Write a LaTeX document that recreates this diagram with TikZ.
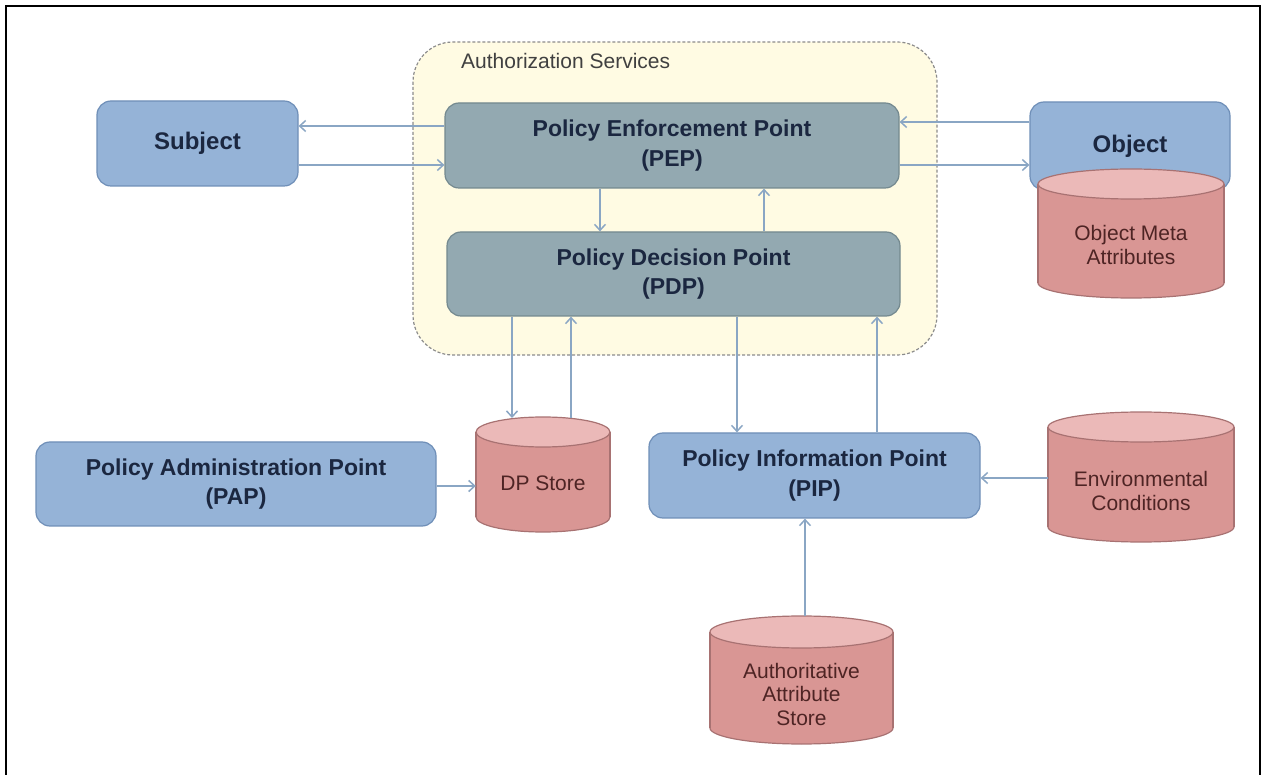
\documentclass[tikz,border=0pt]{standalone}
\usepackage{fontspec}
\setmainfont{Liberation Sans}
\usetikzlibrary{arrows.meta}
\definecolor{bluefill}{HTML}{95B3D7}
\definecolor{blueline}{HTML}{6F8FB8}
\definecolor{grayfill}{HTML}{93A9B1}
\definecolor{grayline}{HTML}{74898F}
\definecolor{cylbody}{HTML}{D99694}
\definecolor{cyltop}{HTML}{EBB9B8}
\definecolor{cylline}{HTML}{A87272}
\definecolor{arrowc}{HTML}{8AA6C4}
\definecolor{authfill}{HTML}{FFFBE3}
\definecolor{dashc}{HTML}{8C8C8C}
\definecolor{txtnavy}{HTML}{1B2740}
\definecolor{txtred}{HTML}{4E2424}
\definecolor{txtgray}{HTML}{404040}
\newcommand\drawcylinder[5]{% cx, rx, top centre y, bottom centre y, ry
  \filldraw[fill=cylbody, draw=cylline, line width=1.2pt] (#1,#4) ellipse [x radius=#2, y radius=#5];
  \fill[cylbody] ({#1-#2},#3) rectangle ({#1+#2},#4);
  \draw[cylline, line width=1.2pt] ({#1-#2},#3) -- ({#1-#2},#4) ({#1+#2},#3) -- ({#1+#2},#4);
  \filldraw[fill=cyltop, draw=cylline, line width=1.2pt] (#1,#3) ellipse [x radius=#2, y radius=#5];
}
\tikzset{
  boxtext/.style={align=center, text=txtnavy, font=\fontsize{23}{29.5}\selectfont\bfseries, inner sep=0pt},
  bluebox/.style={boxtext, draw=blueline, fill=bluefill, line width=1.2pt, rounded corners=14pt},
  graybox/.style={boxtext, draw=grayline, fill=grayfill, line width=1.2pt, rounded corners=14pt},
  cyltext/.style={align=center, text=txtred, font=\fontsize{21}{23.5}\selectfont, inner sep=0pt, draw=none},
  arr/.style={draw=arrowc, line width=1.5pt, -{Straight Barb[length=6pt,width=11pt]}},
}
\begin{document}
\begin{tikzpicture}[x=1pt,y=-1pt]
\useasboundingbox (0,0) rectangle (1262,775);
\fill[white] (0,0) rectangle (1262,775);
\draw[black, line width=2.5pt] (6,776) -- (6,6) -- (1260,6) -- (1260,776);

% Authorization services container
\draw[dashc, fill=authfill, line width=1.2pt, dash pattern=on 3pt off 2pt, rounded corners=40pt] (413,42) rectangle (937,355);
\node[anchor=base west, text=txtgray, font=\fontsize{21}{24}\selectfont, inner sep=0pt] (authlabel) at (461,69) {Authorization Services};

% Boxes
\node[graybox, minimum width=454pt, minimum height=85pt] (pep) at (672,145.5) {Policy Enforcement Point\\(PEP)};
\node[graybox, minimum width=453pt, minimum height=84pt] (pdp) at (673.5,274) {Policy Decision Point\\(PDP)};
\node[bluebox, minimum width=201pt, minimum height=85pt, font=\fontsize{24}{28}\selectfont\bfseries] (subject) at (197.5,143.5) {Subject};
\node[bluebox, minimum width=200pt, minimum height=88pt, font=\fontsize{24}{28}\selectfont\bfseries] (object) at (1130,146) {Object};
\node[bluebox, minimum width=400pt, minimum height=84pt] (pap) at (236,484) {Policy Administration Point\\(PAP)};
\node[bluebox, minimum width=331pt, minimum height=85pt] (pip) at (814.5,475.5) {Policy Information Point\\(PIP)};

% Cylinders
\drawcylinder{1131}{93}{184}{283}{15}
\node[cyltext, minimum width=186pt, minimum height=99pt] (oma) at (1131,245) {Object Meta\\Attributes};
\drawcylinder{1141}{93}{427}{527}{15}
\node[cyltext, minimum width=186pt, minimum height=100pt] (env) at (1141,491) {Environmental\\Conditions};
\drawcylinder{801.5}{91.5}{632}{728}{16}
\node[cyltext, minimum width=183pt, minimum height=96pt] (aas) at (801.5,694) {Authoritative\\Attribute\\Store};
\drawcylinder{543}{67}{432}{517}{15}
\node[cyltext, minimum width=134pt, minimum height=85pt] (dp) at (543,483) {DP Store};

% helper coordinates
\coordinate (h1) at (0,126);
\coordinate (h2) at (0,165);
\coordinate (h3) at (0,122);
\coordinate (h4) at (0,486);
\coordinate (h5) at (0,478);
\coordinate (v1) at (600,0);
\coordinate (v2) at (764,0);
\coordinate (v3) at (737,0);
\coordinate (v4) at (877,0);
\coordinate (v5) at (805,0);
\coordinate (v6) at (512,0);
\coordinate (v7) at (571,0);
\coordinate (dpA) at (512,418);
\coordinate (dpB) at (571,418.5);
\coordinate (aasT) at (805,616);

% Connectors
\draw[arr] (pep.west |- h1) -- (subject.east |- h1);
\draw[arr] (subject.east |- h2) -- (pep.west |- h2);
\draw[arr] (object.west |- h3) -- (pep.east |- h3);
\draw[arr] (pep.east |- h2) -- (object.west |- h2);
\draw[arr] (pep.south -| v1) -- (pdp.north -| v1);
\draw[arr] (pdp.north -| v2) -- (pep.south -| v2);
\draw[arr] (pdp.south -| v6) -- (dpA);
\draw[arr] (dpB) -- (pdp.south -| v7);
\draw[arr] (pdp.south -| v3) -- (pip.north -| v3);
\draw[arr] (pip.north -| v4) -- (pdp.south -| v4);
\draw[arr] (pap.east |- h4) -- (dp.west |- h4);
\draw[arr] (env.west |- h5) -- (pip.east |- h5);
\draw[arr] (aasT) -- (pip.south -| v5);
\end{tikzpicture}
\end{document}
